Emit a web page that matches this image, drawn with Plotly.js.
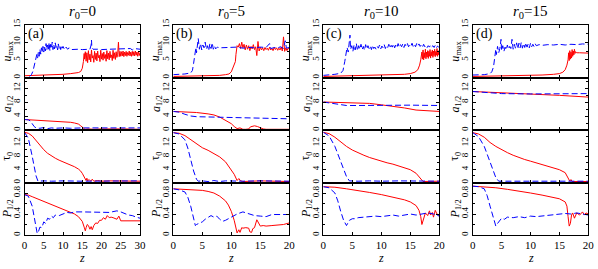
<!DOCTYPE html>
<html><head><meta charset="utf-8">
<script src="https://cdn.plot.ly/plotly-3.0.1.min.js"></script>
<style>html,body{margin:0;padding:0;background:#fff}#chart{width:598px;height:269px}</style>
</head><body><div id="chart"></div>
<script>
// ---------- DATA (z, value) pairs ----------
const colTitles = ["0", "5", "10", "15"];
const panelTags = ["(a)", "(b)", "(c)", "(d)"];
const xTicks1 = [0, 5, 10, 15, 20, 25, 30];
const xTicks2 = [0, 5, 10, 15, 20];
const uTicks = [0, 5, 10, 15];
const aTicks = [0, 4, 8, 12];
const tTicks = [0, 4, 8, 12];
const pTicks = [0, 0.4, 0.8];

// column 1, r0 = 0
const c1_uR = [[0,0.5],[2,0.55],[4,0.6],[6,0.7],[8,0.8],[10,0.9],[12,1.1],[13,1.2],[14,1.4],[14.6,1.7],[15,2.6],[15.3,4.5],[15.5,6.8],[15.6,5.2],[15.8,7.3],[16,4.6],[16.2,7.0],[16.4,4.2],[16.6,7.6],[16.8,5.0],[17,6.6],[17.2,4.4],[17.4,7.8],[17.6,5.5],[17.8,6.2],[18,4.3],[18.2,7.4],[18.4,5.1],[18.6,6.9],[18.8,4.7],[19,7.5],[19.2,5.6],[19.4,6.3],[19.6,4.5],[19.8,7.7],[20,5.2],[20.2,6.8],[20.4,4.9],[20.6,7.2],[20.8,5.4],[21,6.5],[21.2,4.6],[21.4,7.6],[21.6,5.3],[21.8,6.9],[22,5.0],[22.2,7.4],[22.4,5.6],[22.6,6.4],[22.8,4.8],[23,7.7],[23.2,5.4],[23.4,7.0],[23.6,5.1],[23.8,7.3],[24,5.7],[24.2,6.6],[24.4,10.0],[24.6,5.9],[24.8,7.4],[25,6.0],[25.2,7.3],[25.4,6.1],[25.6,7.5],[25.8,5.9],[26,7.2],[26.2,6.2],[26.4,7.4],[26.6,6.0],[26.8,7.1],[27,6.3],[27.2,7.5],[27.4,6.1],[27.6,7.2],[27.8,6.0],[28,7.4],[28.2,6.2],[28.4,7.3],[28.6,6.1],[28.8,7.5],[29,6.3],[29.2,7.2],[29.4,6.0],[29.6,7.4],[29.8,6.2],[30,7.0]];
const c1_uB = [[1.3,0.3],[1.8,0.8],[2.2,1.8],[2.6,3.5],[3.0,5.2],[3.2,6.5],[3.4,5.5],[3.6,7.2],[3.8,6.0],[4.0,8.0],[4.2,6.6],[4.4,8.4],[4.6,7.0],[4.8,8.8],[5.0,7.2],[5.2,9.0],[5.4,7.5],[5.6,9.6],[5.8,7.8],[6.0,9.2],[6.2,8.0],[6.4,9.9],[6.6,7.6],[6.8,9.4],[7.0,8.2],[7.2,10.0],[7.4,7.9],[7.6,9.3],[7.8,8.1],[8.0,9.8],[8.2,8.3],[8.4,9.0],[8.6,7.8],[8.8,9.5],[9.0,8.2],[9.2,8.9],[9.4,7.9],[9.6,9.1],[9.8,8.3],[10.0,8.8],[10.4,7.9],[10.8,8.6],[11.2,8.0],[11.6,8.4],[12,7.9],[13,8.0],[14,8.0],[15,7.9],[16,8.0],[17,8.0],[17.3,9.2],[17.4,10.6],[17.5,8.4],[17.8,8.0],[19,8.0],[20,7.9],[22,8.0],[24,8.0],[26,8.0],[27.5,8.2],[28,7.8],[28.5,8.2],[30,8.0]];
const c1_aR = [[0,3.0],[2,2.9],[4,2.8],[6,2.7],[8,2.6],[10,2.4],[12,2.2],[13,2.0],[14,1.7],[14.6,1.2],[15.2,0.6],[15.7,0.2],[16.5,0.3],[18,0.2],[20,0.3],[23,0.2],[26,0.3],[30,0.2]];
const c1_aB = [[0,3.0],[1,2.9],[1.5,2.6],[2,1.8],[2.5,1.0],[3,0.6],[4,0.5],[5,0.7],[6,0.4],[7,0.6],[8,0.5],[10,0.6],[12,0.5],[15,0.6],[20,0.6],[25,0.6],[30,0.6]];
const c1_tR = [[0,15.3],[1,15.0],[2,14.2],[3,12.8],[4,11.3],[5,10.0],[6,8.9],[7,8.1],[8,7.4],[9,6.8],[10,6.3],[11,5.9],[12,5.4],[13,4.8],[14,4.1],[14.5,3.6],[15,2.8],[15.5,1.8],[16,0.6],[16.2,1.3],[16.4,0.5],[16.8,0.9],[17.2,0.4],[17.6,1.0],[18,0.4],[19,0.6],[20,0.4],[22,0.5],[25,0.4],[30,0.4]];
const c1_tB = [[0,15.3],[1,13.5],[2,8.0],[2.5,5.0],[3,2.0],[3.5,0.4],[5,0.5],[7,0.4],[10,0.5],[15,0.4],[20,0.5],[25,0.4],[30,0.5]];
const c1_pR = [[0,0.77],[1,0.76],[2,0.73],[4,0.67],[6,0.61],[8,0.56],[10,0.50],[11,0.47],[12,0.44],[13,0.40],[14,0.35],[15,0.26],[15.5,0.15],[15.8,0.08],[16,0.14],[16.3,0.20],[16.6,0.18],[17,0.11],[17.3,0.16],[17.6,0.10],[18,0.18],[18.5,0.23],[19,0.22],[19.5,0.28],[20,0.28],[20.5,0.33],[21,0.30],[21.5,0.37],[22,0.33],[22.5,0.34],[23,0.33],[23.5,0.31],[24,0.30],[24.5,0.36],[24.8,0.28],[25,0.27],[30,0.27]];
const c1_pB = [[0,0.77],[1,0.74],[2,0.55],[2.5,0.35],[3,0.15],[3.3,0.03],[3.6,0.06],[4,0.15],[4.5,0.14],[5,0.25],[5.5,0.22],[6,0.32],[6.5,0.30],[7,0.36],[7.5,0.33],[8,0.38],[9,0.37],[10,0.40],[11,0.43],[12,0.42],[13,0.44],[15,0.44],[20,0.44],[22,0.43],[24,0.46],[25,0.44],[27,0.38],[28,0.37],[29,0.34],[30,0.32]];

// column 2, r0 = 5
const c2_uR = [[0,0.3],[2,0.35],[4,0.4],[6,0.5],[8,0.6],[9,0.8],[9.6,1.0],[10.0,1.6],[10.3,2.8],[10.5,4.0],[10.7,4.5],[10.8,6.5],[10.9,8.8],[11.0,9.0],[11.2,8.6],[11.4,9.6],[11.6,8.2],[11.8,10.0],[12.0,8.4],[12.2,9.4],[12.4,7.8],[12.6,9.2],[12.8,8.0],[13.0,9.0],[13.2,7.6],[13.4,8.8],[13.6,8.1],[13.8,9.3],[14.0,7.9],[14.2,8.7],[14.4,6.2],[14.6,10.2],[14.8,7.5],[15.0,8.6],[15.2,7.8],[15.4,8.4],[15.6,7.6],[15.8,8.5],[16.0,7.9],[16.2,8.3],[16.4,7.7],[16.6,8.6],[16.8,7.8],[17.0,8.2],[17.2,7.6],[17.4,8.5],[17.6,7.9],[17.8,8.4],[18.0,7.7],[18.2,8.3],[18.4,7.8],[18.6,8.6],[18.8,7.5],[19.0,11.5],[19.2,7.4],[19.4,8.4],[19.6,7.6],[19.8,8.3],[20.0,7.9]];
const c2_uB = [[0,0.8],[1,0.8],[2,1.0],[3,1.3],[3.3,2.0],[3.5,4.0],[3.7,6.0],[3.9,8.5],[4.0,7.0],[4.2,9.0],[4.3,11.0],[4.5,8.0],[4.7,9.6],[4.9,7.8],[5.1,9.2],[5.3,8.4],[5.5,10.0],[5.7,8.0],[5.9,9.0],[6.1,7.6],[6.3,9.5],[6.5,8.2],[6.7,9.8],[6.9,8.0],[7.1,8.9],[7.3,8.1],[7.6,8.6],[8.0,8.4],[9,8.5],[10,8.4],[11,8.6],[12,8.3],[13,8.5],[14,8.4],[15,8.6],[16,8.5],[16.6,9.6],[16.8,8.2],[17.5,8.5],[18,8.4],[18.5,8.7],[19,8.2],[19.3,10.4],[19.5,8.3],[20,8.5]];
const c2_aR = [[0,5.3],[2,5.2],[4,5.0],[6,4.6],[7,4.3],[8,3.7],[9,2.8],[10,1.8],[10.5,1.0],[11,0.4],[11.5,0.6],[12,0.2],[12.5,0.2],[13,0.3],[13.3,0.9],[13.6,1.1],[14,1.2],[14.5,1.0],[15,0.6],[15.5,0.3],[16,0.2],[18,0.2],[20,0.2]];
const c2_aB = [[0,5.3],[1,5.1],[2,4.5],[3,4.0],[4,3.8],[6,3.7],[10,3.5],[15,3.4],[20,3.2]];
const c2_tR = [[0,15.2],[1,15.0],[2,14.3],[3,13.0],[4,11.8],[5,10.6],[6,9.8],[7,8.9],[8,7.8],[9,6.3],[10,4.0],[10.5,2.5],[11,0.6],[11.3,1.2],[11.6,0.5],[12,0.3],[15,0.5],[20,0.3]];
const c2_tB = [[0,15.2],[1,14.8],[2,13.0],[2.5,10.5],[3,7.0],[3.5,3.5],[4,1.0],[4.3,0.4],[5,0.5],[6,0.3],[7,0.6],[8,0.3],[9,0.5],[10,0.4],[12,0.4],[15,0.5],[20,0.4]];
const c2_pR = [[0,0.88],[2,0.87],[4,0.86],[5,0.85],[6,0.83],[7,0.80],[8,0.74],[9,0.65],[9.5,0.57],[10,0.45],[10.5,0.28],[10.8,0.10],[11,0.04],[11.3,0.10],[11.5,0.05],[11.8,0.14],[12,0.13],[12.5,0.14],[13,0.13],[13.2,0.06],[13.5,0.05],[13.7,0.12],[14,0.14],[14.4,0.29],[14.7,0.22],[15,0.17],[15.5,0.18],[16,0.17],[17,0.18],[18,0.19],[19,0.20],[20,0.23]];
const c2_pB = [[0,0.88],[1,0.86],[2,0.82],[2.5,0.72],[3,0.55],[3.5,0.32],[3.8,0.18],[4,0.20],[4.5,0.22],[5,0.25],[5.5,0.30],[6,0.33],[6.5,0.37],[7,0.34],[7.5,0.36],[8,0.30],[8.5,0.26],[9,0.28],[9.5,0.31],[10,0.35],[11,0.40],[12,0.44],[13,0.40],[14,0.37],[15,0.36],[16,0.35],[17,0.39],[18,0.39],[19,0.40],[20,0.39]];

// column 3, r0 = 10
const c3_uR = [[0,0.3],[3,0.4],[6,0.5],[9,0.6],[12,0.8],[14,0.9],[15,1.1],[15.8,1.5],[16.3,2.2],[16.6,3.5],[16.8,5.0],[17.0,7.2],[17.1,5.2],[17.2,7.8],[17.3,5.0],[17.4,7.0],[17.5,5.6],[17.6,8.0],[17.7,5.3],[17.8,7.2],[17.9,5.8],[18.0,7.6],[18.1,5.4],[18.2,7.4],[18.3,6.0],[18.4,7.9],[18.5,5.5],[18.6,7.3],[18.7,6.1],[18.8,7.8],[18.9,5.7],[19.0,7.5],[19.1,6.2],[19.2,8.0],[19.3,5.9],[19.4,7.4],[19.5,6.3],[19.6,8.2],[19.7,6.0],[19.8,7.6],[19.9,6.4],[20.0,7.2]];
const c3_uB = [[0,0.6],[1,0.7],[2,0.9],[3,1.2],[3.4,2.0],[3.7,4.5],[3.9,7.0],[4.1,8.5],[4.3,7.2],[4.5,9.5],[4.6,12.0],[4.7,8.0],[4.9,9.0],[5.1,7.4],[5.3,9.2],[5.5,7.8],[5.7,9.6],[5.9,7.6],[6.1,9.0],[6.3,8.0],[6.5,9.4],[6.7,7.9],[6.9,8.8],[7.1,7.7],[7.3,9.3],[7.5,8.1],[7.7,9.0],[7.9,8.2],[8.1,8.9],[8.3,7.9],[8.5,9.1],[8.7,8.2],[8.9,8.6],[9.1,8.0],[9.3,8.8],[9.5,8.3],[9.7,9.2],[9.9,8.1],[10.1,8.9],[10.3,8.4],[10.5,9.3],[10.7,8.2],[10.9,9.0],[11.1,8.5],[11.3,9.4],[11.5,8.3],[11.7,9.1],[11.9,8.6],[12.1,9.5],[12.3,8.4],[12.5,9.2],[12.7,8.5],[12.9,9.6],[13.1,8.6],[13.3,9.3],[13.5,8.7],[13.7,9.5],[13.9,8.5],[14.1,9.4],[14.3,8.8],[14.5,9.6],[14.7,8.7],[14.9,9.3],[15.1,8.9],[15.3,9.7],[15.5,8.8],[15.7,9.4],[15.9,8.7],[16.1,9.6],[16.3,8.9],[16.5,9.5],[16.7,8.8],[16.9,9.2],[17.1,8.6],[17.3,9.4],[17.5,8.7],[17.7,9.1],[17.9,8.5],[18.1,9.0],[18.3,8.6],[18.5,9.2],[18.7,8.7],[18.9,9.0],[19.1,8.5],[19.3,9.1],[19.5,8.4],[19.7,8.9],[19.9,8.6],[20.0,8.8]];
const c3_aR = [[0,8.0],[5,7.8],[8,7.6],[10,7.2],[12,6.8],[14,6.3],[16,5.7],[18,5.5],[20,5.3]];
const c3_aB = [[0,8.0],[2,7.6],[3,7.2],[4,7.0],[6,7.0],[10,7.1],[15,7.1],[20,7.0]];
const c3_tR = [[0,15.3],[1,14.9],[2,13.8],[3,12.3],[4,11.0],[5,9.9],[6,9.0],[7,8.3],[8,7.6],[9,7.0],[10,6.5],[11,6.0],[12,5.6],[13,5.1],[14,4.6],[15,3.9],[16,2.8],[16.5,1.8],[17,0.6],[17.2,0.3],[20,0.4]];
const c3_tB = [[0,15.3],[1,14.2],[2,11.0],[3,6.5],[3.5,4.0],[4,1.8],[4.5,0.5],[6,0.4],[8,0.5],[10,0.4],[13,0.5],[16,0.4],[20,0.4]];
const c3_pR = [[0,0.92],[2,0.91],[4,0.88],[6,0.85],[8,0.81],[10,0.77],[12,0.72],[14,0.67],[15,0.63],[16,0.56],[16.5,0.47],[16.8,0.35],[17,0.20],[17.2,0.28],[17.4,0.38],[17.6,0.42],[18,0.37],[18.3,0.46],[18.5,0.38],[18.8,0.43],[19,0.34],[19.3,0.47],[19.6,0.40],[20,0.37]];
const c3_pB = [[0,0.92],[1,0.90],[2,0.80],[2.5,0.65],[3,0.45],[3.5,0.28],[4,0.18],[4.5,0.28],[5,0.31],[5.5,0.31],[6,0.33],[7,0.34],[8,0.36],[9,0.36],[10,0.35],[11,0.37],[12,0.38],[13,0.36],[14,0.38],[15,0.40],[16,0.38],[17,0.40],[18,0.42],[19,0.40],[20,0.36]];

// column 4, r0 = 15
const c4_uR = [[0,0.3],[3,0.35],[6,0.45],[9,0.55],[12,0.7],[14,0.9],[15,1.1],[15.6,1.5],[16.0,2.2],[16.3,3.5],[16.5,5.0],[16.6,7.0],[16.7,4.8],[16.8,7.6],[16.9,5.2],[17.0,7.2],[17.1,5.5],[17.2,7.9],[17.3,6.0],[17.4,7.5],[17.5,6.4],[17.6,8.0],[17.7,6.8],[17.8,7.3],[18.0,7.0],[18.5,7.0],[19,7.0],[19.5,6.9],[20,6.9]];
const c4_uB = [[0,0.7],[2,0.8],[3,1.1],[3.3,1.6],[3.6,3.0],[3.8,5.5],[4.0,8.0],[4.1,6.5],[4.3,8.8],[4.5,7.0],[4.7,8.2],[4.9,10.8],[5.0,7.6],[5.2,9.0],[5.4,7.4],[5.6,8.6],[5.8,7.8],[6.0,9.2],[6.2,8.0],[6.4,8.8],[6.6,8.2],[6.8,10.8],[7.0,8.0],[7.2,9.4],[7.4,8.3],[7.6,9.8],[7.8,8.1],[8.0,9.7],[8.2,8.4],[8.4,9.9],[8.6,8.3],[8.8,9.6],[9.0,8.5],[9.2,9.8],[9.4,8.6],[9.6,9.5],[9.8,8.4],[10.0,9.7],[10.2,8.7],[10.4,9.4],[10.6,8.8],[10.8,9.6],[11.0,9.0],[11.5,9.3],[12,9.1],[13,9.3],[14,9.2],[15,9.4],[16,9.2],[17,9.4],[18,9.3],[19,9.5],[20,9.4]];
const c4_aR = [[0,11.0],[5,10.7],[10,10.3],[15,9.9],[20,9.4]];
const c4_aB = [[0,11.0],[3,10.6],[5,10.4],[10,10.3],[15,10.3],[20,10.4]];
const c4_tR = [[0,15.2],[1,14.8],[2,13.8],[3,12.2],[4,11.0],[5,10.0],[6,9.1],[7,8.3],[8,7.6],[9,7.0],[10,6.5],[11,6.0],[12,5.5],[13,5.0],[14,4.5],[15,3.9],[16,3.0],[16.5,1.5],[16.8,0.4],[17,0.9],[17.2,0.3],[20,0.3]];
const c4_tB = [[0,15.2],[1,14.0],[2,11.0],[3,6.5],[3.5,4.0],[4,1.5],[4.5,0.4],[6,0.4],[8,0.5],[10,0.4],[13,0.5],[16,0.4],[20,0.4]];
const c4_pR = [[0,0.93],[2,0.92],[4,0.90],[6,0.87],[8,0.84],[10,0.80],[12,0.76],[14,0.72],[15,0.69],[16,0.63],[16.3,0.55],[16.5,0.35],[16.7,0.17],[16.9,0.22],[17.1,0.38],[17.3,0.42],[17.6,0.32],[18,0.42],[18.5,0.38],[19,0.44],[19.3,0.38],[19.6,0.42],[20,0.40]];
const c4_pB = [[0,0.93],[1,0.92],[2,0.88],[2.5,0.75],[3,0.55],[3.5,0.35],[4,0.17],[4.3,0.22],[4.6,0.26],[5,0.32],[5.5,0.30],[6,0.34],[7,0.33],[8,0.35],[9,0.33],[10,0.36],[11,0.35],[12,0.36],[13,0.37],[14,0.38],[15,0.40],[16,0.41],[17,0.40],[18,0.42],[19,0.40],[20,0.38]];

// ---------- LAYOUT ----------
const W = 598, H = 269;
const FONT = 'Liberation Serif';
const colPx = [[24.5,140],[173.3,289.3],[323.3,439.3],[472.7,588.3]];
const rowPx = [[24.5,77.5],[77.5,130],[130,182.5],[182.5,235]];
const xRanges = [[0,30],[0,20],[0,20],[0,20]];
const yRanges = [[0,15],[0,15],[0,16],[0,1]];
const yTickSets = [uTicks, aTicks, tTicks, pTicks];
const yMinor = [2.5, 2, 2, 0.2];
const yTitles = ['<i>u</i><sub>max</sub>', '<i>a</i><sub>1/2</sub>', 'τ<sub>0</sub>', '<i>P</i><sub>1/2</sub>'];

const data = [
  [[c1_uR,c1_uB],[c2_uR,c2_uB],[c3_uR,c3_uB],[c4_uR,c4_uB]],
  [[c1_aR,c1_aB],[c2_aR,c2_aB],[c3_aR,c3_aB],[c4_aR,c4_aB]],
  [[c1_tR,c1_tB],[c2_tR,c2_tB],[c3_tR,c3_tB],[c4_tR,c4_tB]],
  [[c1_pR,c1_pB],[c2_pR,c2_pB],[c3_pR,c3_pB],[c4_pR,c4_pB]]
];

const traces = [];
const layout = {
  width: W, height: H, margin: {l:0, r:0, t:0, b:0},
  paper_bgcolor: '#fff', plot_bgcolor: '#fff', showlegend: false,
  font: {family: FONT, size: 10, color: '#000'},
  annotations: []
};
const px2x = p => p / W;
const px2y = p => 1 - p / H;

for (let r = 0; r < 4; r++) {
  for (let c = 0; c < 4; c++) {
    const k = r * 4 + c + 1;
    const xa = 'x' + (k === 1 ? '' : k), ya = 'y' + (k === 1 ? '' : k);
    const [red, blue] = data[r][c];
    traces.push({x: red.map(p=>p[0]), y: red.map(p=>p[1]), xaxis: xa, yaxis: ya,
      mode: 'lines', line: {color: '#ff0000', width: 1}, hoverinfo: 'skip'});
    traces.push({x: blue.map(p=>p[0]), y: blue.map(p=>p[1]), xaxis: xa, yaxis: ya,
      mode: 'lines', line: {color: '#0000ff', width: 1, dash: '6px,3px'}, hoverinfo: 'skip'});
    const xt = c === 0 ? xTicks1 : xTicks2;
    layout['xaxis' + (k === 1 ? '' : k)] = {
      domain: [px2x(colPx[c][0]), px2x(colPx[c][1])], anchor: ya,
      range: xRanges[c], tickvals: xt, ticktext: xt.map(String),
      showticklabels: r === 3, ticks: 'inside', ticklen: 3, tickcolor: '#000',
      showline: true, linecolor: '#000', linewidth: 1, mirror: 'ticks',
      showgrid: false, zeroline: false, tickfont: {family: FONT, size: 11},
      ticklabelstandoff: 0
    };
    const yt = yTickSets[r];
    layout['yaxis' + (k === 1 ? '' : k)] = {
      domain: [px2y(rowPx[r][1]), px2y(rowPx[r][0])], anchor: xa,
      range: yRanges[r], tickvals: yt, ticktext: yt.map(String), tickangle: -90,
      ticks: 'inside', ticklen: 3, tickcolor: '#000',
      minor: {dtick: yMinor[r], ticks: 'inside', ticklen: 2, tickcolor: '#000', showgrid: false},
      showline: true, linecolor: '#000', linewidth: 1, mirror: 'ticks',
      showgrid: false, zeroline: false, tickfont: {family: FONT, size: 9},
      ticklabelstandoff: 0
    };
    layout.annotations.push({xref: 'paper', yref: 'paper', x: px2x(colPx[c][0] - 17),
      y: px2y((rowPx[r][0] + rowPx[r][1]) / 2), text: yTitles[r], textangle: -90,
      showarrow: false, font: {family: FONT, size: 12}, xanchor: 'center', yanchor: 'middle'});
  }
}
for (let c = 0; c < 4; c++) {
  const mid = (colPx[c][0] + colPx[c][1]) / 2;
  layout.annotations.push({xref: 'paper', yref: 'paper', x: px2x(mid), y: px2y(12),
    text: '<i>r</i><sub>0</sub>=' + colTitles[c], showarrow: false,
    font: {family: FONT, size: 15}, xanchor: 'center', yanchor: 'middle'});
  layout.annotations.push({xref: 'paper', yref: 'paper', x: px2x(colPx[c][0] + 1), y: px2y(34),
    text: panelTags[c], showarrow: false, font: {family: FONT, size: 14},
    xanchor: 'left', yanchor: 'middle'});
  layout.annotations.push({xref: 'paper', yref: 'paper', x: px2x(mid), y: px2y(258),
    text: '<i>z</i>', showarrow: false, font: {family: FONT, size: 12},
    xanchor: 'center', yanchor: 'middle'});
}

Plotly.newPlot('chart', traces, layout, {staticPlot: true, displayModeBar: false});
</script></body></html>
